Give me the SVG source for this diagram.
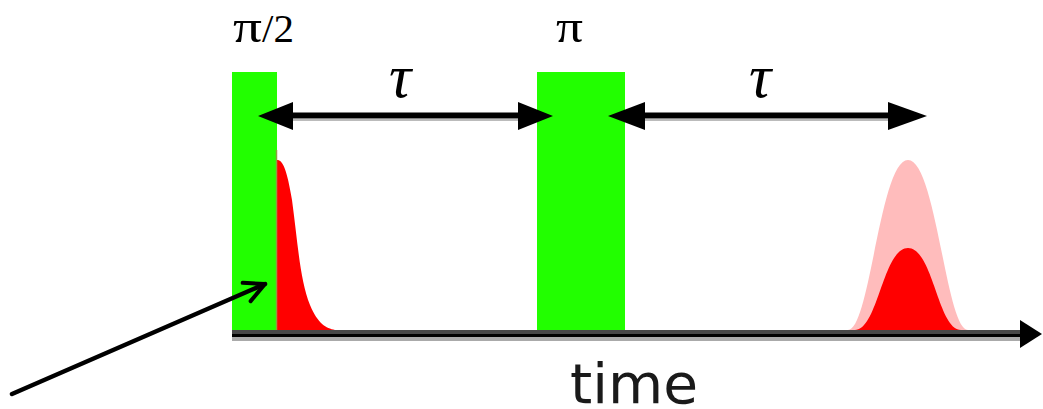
<svg xmlns="http://www.w3.org/2000/svg" width="1043" height="409" viewBox="0 0 1043 409">
<style>
.pulse{fill:#22ff00}
.lbl{font-family:"Liberation Serif","DejaVu Serif",serif;fill:#000;font-size:41px}
.pi{font-size:46px}
.tau{font-family:"Liberation Serif","DejaVu Serif",serif;font-style:italic;fill:#000;font-size:62px}
.ax{font-family:"DejaVu Sans","Liberation Sans",sans-serif;fill:#1a1a1a}
.conn{stroke:#000;fill:none}
.head{fill:#000}
</style>
<defs>
<marker id="open" markerUnits="userSpaceOnUse" markerWidth="30" markerHeight="30" viewBox="-25 -15 30 30" refX="0" refY="0" orient="auto">
<path d="M-20,-10 L0,0 L-20,10" fill="none" stroke="#000" stroke-width="4" stroke-linecap="round" stroke-linejoin="round"/>
</marker>
</defs>
<rect width="1043" height="409" fill="#fff"/>
<g id="echo-signal">
<path d="M848,330 C870,330 880,160 908,160 C936,160 946,330 968,330 Z" fill="#ffbcbc"/>
<path d="M855,330 C878,330 883,248 908,248 C933,248 938,330 961,330 Z" fill="#ff0000"/>
</g>
<g id="fid">
<path d="M277,330 L277,160 C283,160 287,170 292,200 C298,245 300,280 310,305 C318,324 326,328 335,330 Z" fill="#ff0000"/>
</g>
<g id="pulse-pi2">
<rect class="pulse" x="232" y="72" width="45" height="258"/>
<line x1="276.5" y1="150" x2="276.5" y2="330" stroke="#8ca040" stroke-width="1.5"/>
<text class="lbl" x="233" y="42"><tspan class="pi" textLength="29" lengthAdjust="spacingAndGlyphs">π</tspan>/2</text>
</g>
<g id="pulse-pi">
<rect class="pulse" x="537" y="72" width="88" height="258"/>
<text class="lbl" x="556" y="42"><tspan class="pi" textLength="27" lengthAdjust="spacingAndGlyphs">π</tspan></text>
</g>
<g id="axis">
<rect x="232" y="330" width="792" height="4" fill="#000" opacity="0.72"/>
<rect x="232" y="334" width="792" height="3" fill="#000"/>
<rect x="232" y="337" width="790" height="4" fill="#aaa"/>
<polygon class="head" points="1020,320 1042,334 1020,348"/>
<text class="ax" x="570" y="403" font-size="56" textLength="128" lengthAdjust="spacingAndGlyphs">time</text>
</g>
<g id="connectors">
<line x1="290" y1="120" x2="520" y2="120" stroke="#bbb" stroke-width="2"/>
<line x1="290" y1="115.5" x2="520" y2="115.5" class="conn" stroke-width="6"/>
<polygon class="head" points="258,116 293,102 293,130"/>
<polygon class="head" points="553,116 518,102 518,130"/>
<line x1="642" y1="120" x2="890" y2="120" stroke="#bbb" stroke-width="2"/>
<line x1="642" y1="115.5" x2="890" y2="115.5" class="conn" stroke-width="6"/>
<polygon class="head" points="608,116 645,102 645,130"/>
<polygon class="head" points="927,116 888,102 888,130"/>
<text class="tau" x="389" y="97">τ</text>
<text class="tau" x="749" y="97">τ</text>
<line x1="12" y1="394" x2="265" y2="284" class="conn" stroke-width="4.5" stroke-linecap="round" marker-end="url(#open)"/>
</g>
</svg>
